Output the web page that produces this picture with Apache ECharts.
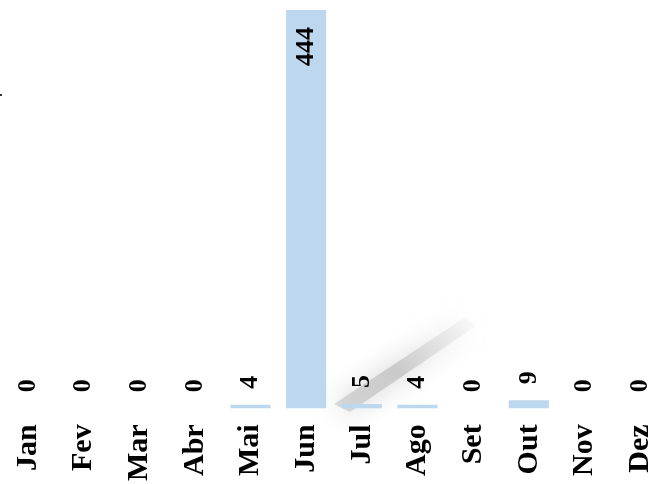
<!DOCTYPE html>
<html>
<head>
<meta charset="utf-8">
<script src="https://cdn.jsdelivr.net/npm/echarts@6/dist/echarts.min.js"></script>
<style>
html, body { margin: 0; padding: 0; background: #fff; }
#chart { width: 668px; height: 484px; }
</style>
</head>
<body>
<div id="chart"></div>
<script>
// dados por mes
var months = ["Jan", "Fev", "Mar", "Abr", "Mai", "Jun", "Jul", "Ago", "Set", "Out", "Nov", "Dez"];
var counts = [0, 0, 0, 0, 4, 444, 5, 4, 0, 9, 0, 0];

var font = "'Liberation Serif', 'DejaVu Serif', serif";
var maxVal = Math.max.apply(null, counts);

var chart = echarts.init(document.getElementById("chart"));

var barData = counts.map(function (v) {
    if (v === maxVal) {
        // the tall bar carries its label inside, near the top
        return {
            value: v,
            label: { position: "insideTop", align: "right", distance: 17 }
        };
    }
    return v;
});

var option = {
    animation: false,
    grid: { left: -5, right: -11, top: 10, bottom: 72 },
    xAxis: {
        type: "category",
        data: months,
        axisLine: { show: false },
        axisTick: { show: false },
        axisLabel: {
            rotate: 90,
            margin: 16,
            color: "#000",
            fontFamily: font,
            fontWeight: "bold",
            fontSize: 30
        }
    },
    yAxis: {
        type: "value",
        min: 0,
        max: maxVal,
        show: false,
        splitLine: { show: false }
    },
    series: [
        {
            type: "bar",
            data: barData,
            barWidth: "72%",
            itemStyle: { color: "#bdd7ee" },
            label: {
                show: true,
                position: "top",
                rotate: 90,
                align: "left",
                verticalAlign: "middle",
                distance: 16,
                color: "#000",
                fontFamily: font,
                fontWeight: "bold",
                fontSize: 26
            }
        }
    ],
    graphic: [
        // stray mark on the left edge
        { type: "rect", left: 0, top: 94, shape: { width: 2, height: 2 }, style: { fill: "#333" } },
        // blurred diagonal shadow next to the tall bar
        {
            type: "polygon",
            z: -1,
            shape: { points: [[334, 404], [350, 412], [476, 326], [464, 318]] },
            style: {
                fill: new echarts.graphic.LinearGradient(0, 1, 1, 0, [
                    { offset: 0, color: "rgba(180,180,180,0.45)" },
                    { offset: 0.45, color: "rgba(170,170,170,0.5)" },
                    { offset: 1, color: "rgba(190,190,190,0.05)" }
                ]),
                shadowBlur: 26,
                shadowColor: "rgba(150,150,150,0.9)"
            }
        }
    ]
};

chart.setOption(option);
</script>
</body>
</html>
